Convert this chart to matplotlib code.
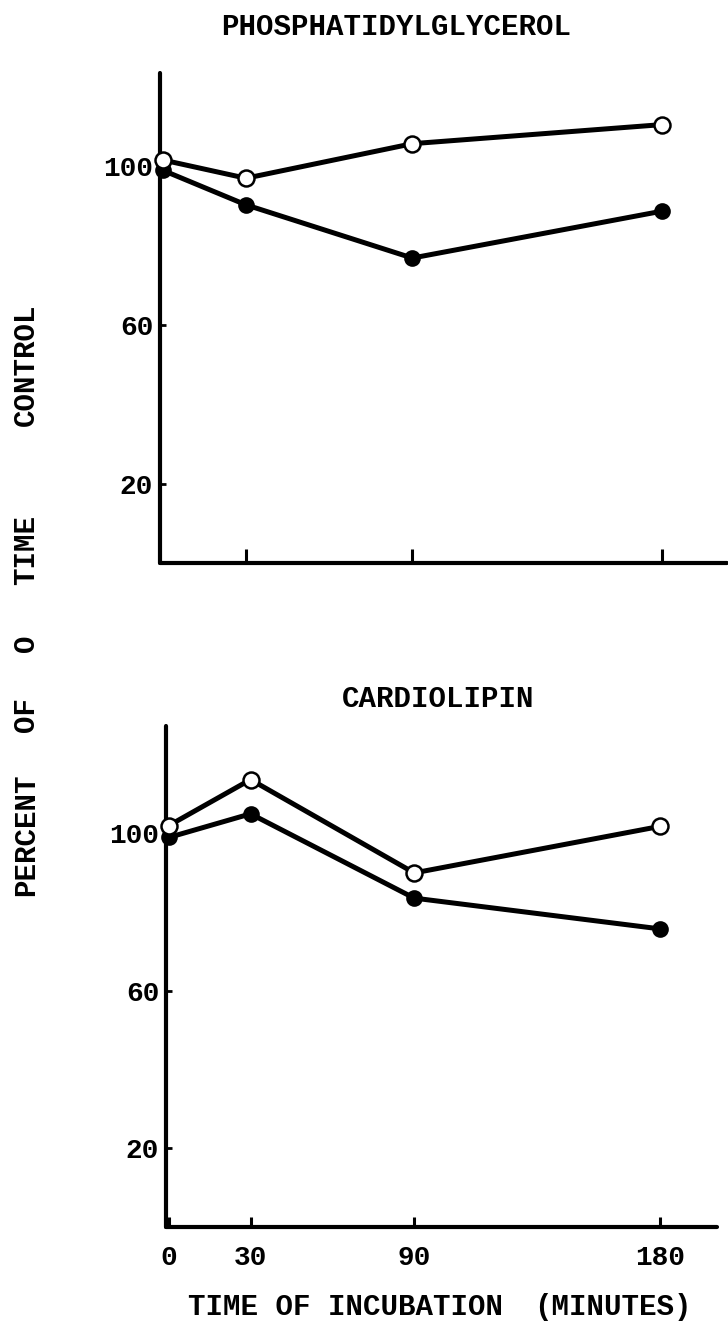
import matplotlib
matplotlib.use("Agg")
import matplotlib.pyplot as plt

# incubation time (minutes) and percent of 0 time control
minutes = [0, 30, 90, 180]
pg_open = [101.5, 96.9, 105.6, 110.4]
pg_filled = [98.9, 90.2, 76.8, 88.6]
cl_open = [101.9, 113.6, 89.9, 101.7]
cl_filled = [98.9, 104.9, 83.5, 75.7]

yticks = [20, 60, 100]
xticks_top = [30, 90, 180]
xticks_bottom = [0, 30, 90, 180]

W, H = 728, 1331
txt_font = 'Liberation Mono'
num_font = 'Liberation Mono'

fig = plt.figure(figsize=(W / 100, H / 100), dpi=100)
fig.patch.set_facecolor('white')


def px_axes(left, top, right, bottom):
    return fig.add_axes([left / W, 1 - bottom / H, (right - left) / W, (bottom - top) / H])


def style(ax):
    for s in ['top', 'right']:
        ax.spines[s].set_visible(False)
    for s in ['left', 'bottom']:
        ax.spines[s].set_linewidth(3)
        ax.spines[s].set_capstyle('round')
    ax.tick_params(axis='y', direction='in', length=4.5, width=2, pad=5,
                   labelsize=20)
    for lab in ax.get_yticklabels():
        lab.set_fontfamily(num_font)
        lab.set_fontweight('bold')


def draw(ax, y_open, y_filled):
    ax.plot(minutes, y_open, '-', color='black', lw=3.6, zorder=2, clip_on=False)
    ax.plot(minutes, y_filled, '-', color='black', lw=3.6, zorder=2, clip_on=False)
    ax.plot(minutes, y_filled, 'o', mfc='black', mec='black', ms=10.5, mew=1.5,
            zorder=3, clip_on=False)
    ax.plot(minutes, y_open, 'o', mfc='white', mec='black', ms=11.5, mew=1.8,
            zorder=4, clip_on=False)


# top panel: phosphatidylglycerol
ax1 = px_axes(160, 73, 727, 563)
draw(ax1, pg_open, pg_filled)
ax1.set_xlim(-1, 203.5)
ax1.set_ylim(0, 123.4)
ax1.set_yticks(yticks)
ax1.set_xticks(xticks_top)
ax1.set_xticklabels([])
ax1.tick_params(axis='x', direction='in', length=10, width=2.2)
style(ax1)

# bottom panel: cardiolipin
ax2 = px_axes(166, 726, 717, 1227)
draw(ax2, cl_open, cl_filled)
ax2.set_xlim(-1, 201)
ax2.set_ylim(0, 127.2)
ax2.set_yticks(yticks)
ax2.set_xticks(xticks_bottom)
ax2.tick_params(axis='x', direction='in', length=7, width=2.2, pad=13,
                labelsize=20)
for lab in ax2.get_xticklabels():
    lab.set_fontfamily(num_font)
    lab.set_fontweight('bold')
style(ax2)


def ftext(x, y, s, rot=0):
    fig.text(x / W, 1 - y / H, s, ha='center', va='center', rotation=rot,
             fontsize=21, fontfamily=txt_font, fontweight='bold')


ftext(396, 27, 'PHOSPHATIDYLGLYCEROL')
ftext(438, 699, 'CARDIOLIPIN')
ftext(345, 1307, 'TIME OF INCUBATION')
ftext(613, 1307, '(MINUTES)')

# vertical axis label split in words as typed
for word, yy in [('CONTROL', 365), ('TIME', 550), ('O', 643), ('OF', 715), ('PERCENT', 835)]:
    ftext(26, yy, word, rot=90)

fig.savefig('out.png', dpi=100, facecolor='white')
